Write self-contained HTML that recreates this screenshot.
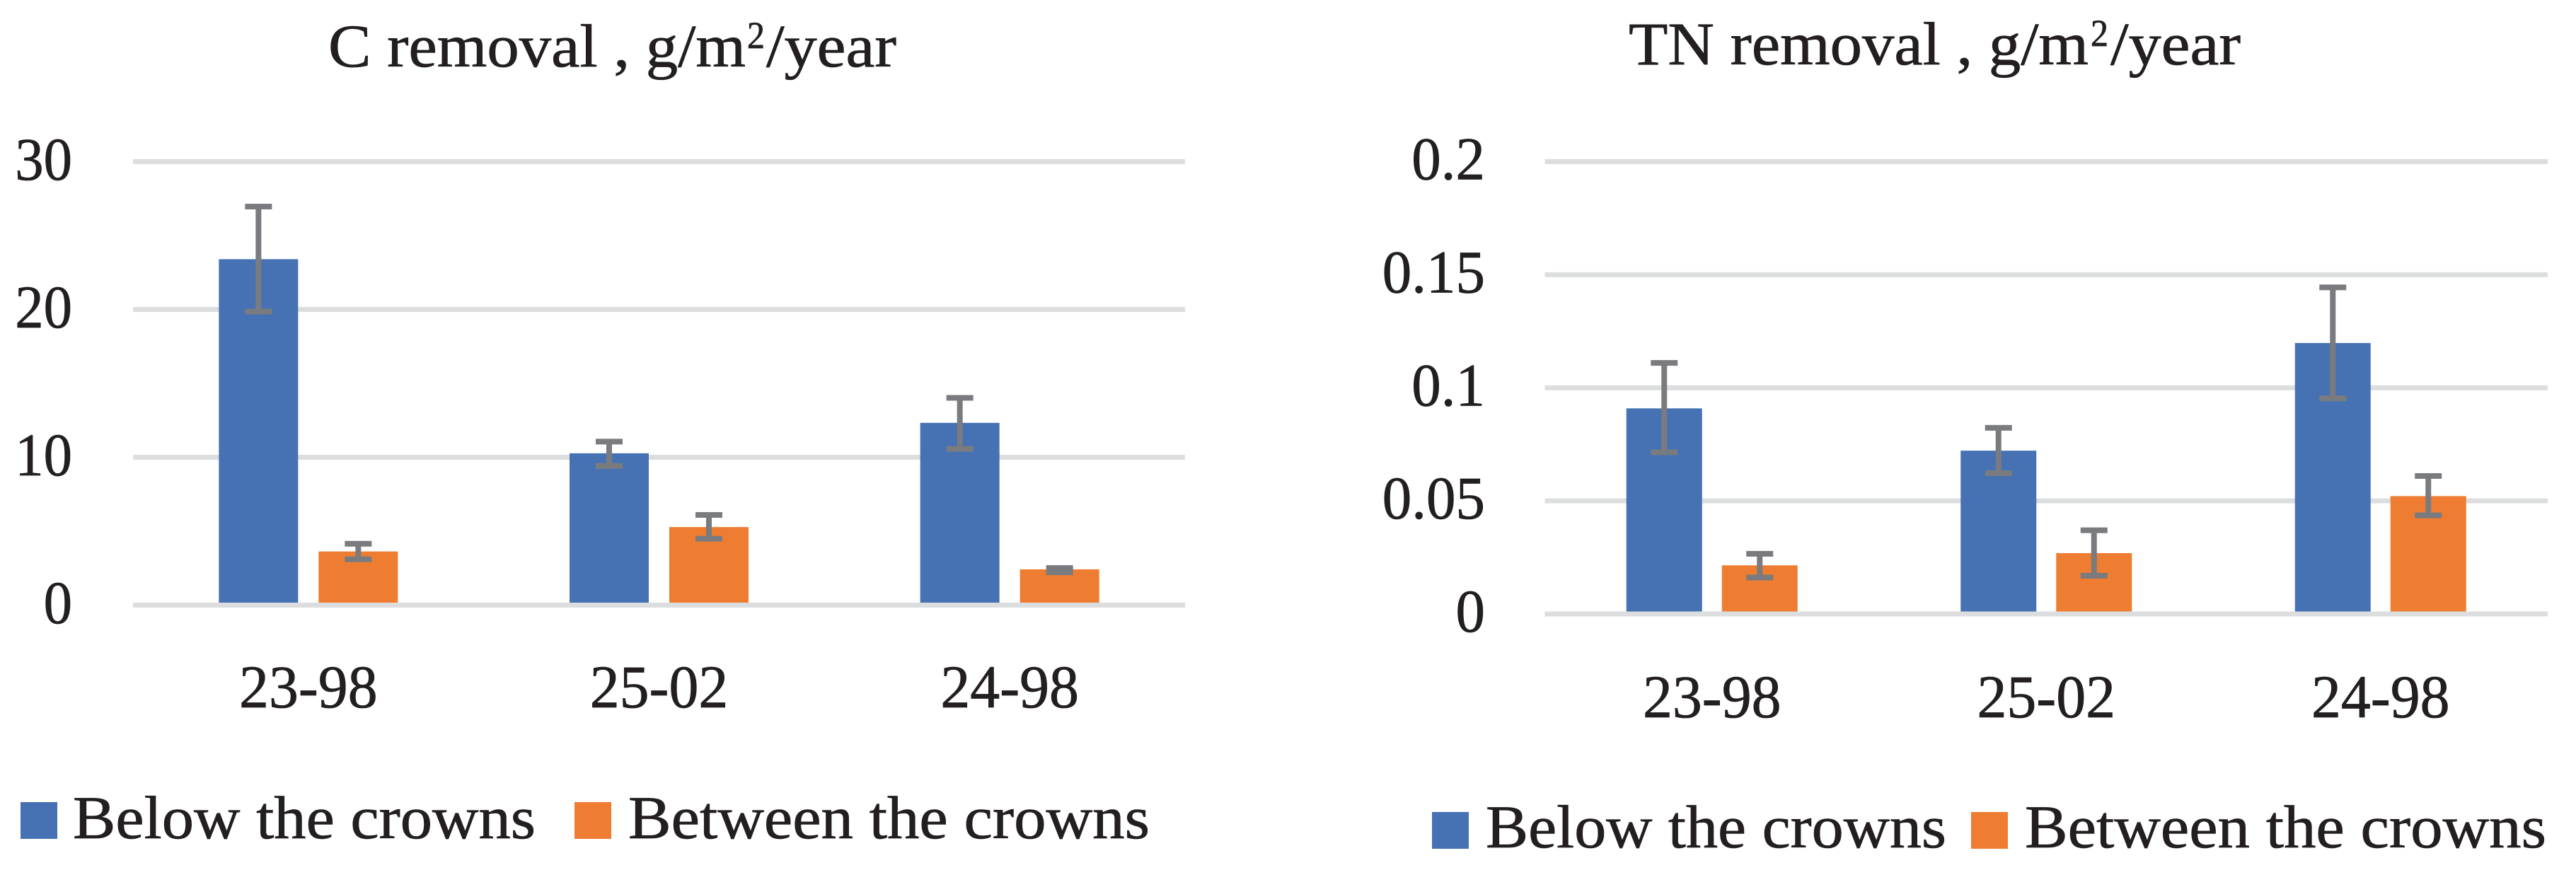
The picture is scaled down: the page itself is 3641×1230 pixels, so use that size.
<!DOCTYPE html>
<html lang="en">
<head>
<meta charset="utf-8">
<title>C and TN removal</title>
<style>
html,body{margin:0;padding:0;background:#fff;width:3641px;height:1230px;overflow:hidden}
svg{display:block}
text{font-family:"Liberation Serif",serif;fill:#231F20;stroke:#231F20;stroke-width:0.8px}
</style>
</head>
<body>
<svg id="figure" xmlns="http://www.w3.org/2000/svg" width="3641" height="1230" viewBox="0 0 3641 1230">
  <rect x="0" y="0" width="3641" height="1230" fill="#ffffff"/>
  <g id="chart-c">
    <text font-size="86" y="94"><tspan x="464" textLength="590" lengthAdjust="spacingAndGlyphs">C removal , g/m</tspan><tspan x="1056" y="68" font-size="54" textLength="25" lengthAdjust="spacingAndGlyphs">2</tspan><tspan x="1083" y="94" textLength="184" lengthAdjust="spacingAndGlyphs">/year</tspan></text>
    <g>
      <rect x="29" y="1134" width="52" height="52" fill="#4672B4"/>
      <text x="103" y="1185" font-size="86" textLength="654" lengthAdjust="spacingAndGlyphs">Below the crowns</text>
      <rect x="812" y="1134" width="52" height="52" fill="#EE7D31"/>
      <text x="888" y="1185" font-size="86" textLength="737" lengthAdjust="spacingAndGlyphs">Between the crowns</text>
    </g>
  </g>
  <g id="chart-tn">
    <text font-size="86" y="91"><tspan x="2302" textLength="650" lengthAdjust="spacingAndGlyphs">TN removal , g/m</tspan><tspan x="2955" y="65" font-size="54" textLength="25" lengthAdjust="spacingAndGlyphs">2</tspan><tspan x="2983" y="91" textLength="184" lengthAdjust="spacingAndGlyphs">/year</tspan></text>
    <g>
      <rect x="2024" y="1148" width="52" height="52" fill="#4672B4"/>
      <text x="2100" y="1198" font-size="86" textLength="651" lengthAdjust="spacingAndGlyphs">Below the crowns</text>
      <rect x="2786" y="1148" width="52" height="52" fill="#EE7D31"/>
      <text x="2862" y="1198" font-size="86" textLength="737" lengthAdjust="spacingAndGlyphs">Between the crowns</text>
    </g>
  </g>
</svg>
<script>
// Data
const categories = ["23-98", "25-02", "24-98"];

const cTicks = [0, 10, 20, 30];
const cBelow = [23.4, 10.27, 12.33];
const cBelowErrLow = [19.86, 9.41, 10.57];
const cBelowErrHigh = [26.96, 11.06, 14.02];
const cBetween = [3.63, 5.28, 2.42];
const cBetweenErrLow = [3.1, 4.49, 2.22];
const cBetweenErrHigh = [4.15, 6.1, 2.51];

const tnTicks = [0, 0.05, 0.1, 0.15, 0.2];
const tnBelow = [0.0909, 0.0722, 0.1198];
const tnBelowErrLow = [0.0715, 0.0622, 0.0953];
const tnBelowErrHigh = [0.111, 0.0823, 0.1444];
const tnBetween = [0.0215, 0.0269, 0.0521];
const tnBetweenErrLow = [0.0161, 0.0169, 0.0436];
const tnBetweenErrHigh = [0.0266, 0.037, 0.061];

const SVG_NS = "http://www.w3.org/2000/svg";
const BLUE = "#4672B4", ORANGE = "#EE7D31", GREY = "#7A7B7F", GRID = "#DCDDDE";

function makeRect(parent, x, y, w, h, fill) {
  const r = document.createElementNS(SVG_NS, "rect");
  r.setAttribute("x", x);
  r.setAttribute("y", y);
  r.setAttribute("width", w);
  r.setAttribute("height", h);
  r.setAttribute("fill", fill);
  parent.appendChild(r);
  return r;
}

function makeText(parent, str, x, y, anchor, squeeze) {
  const t = document.createElementNS(SVG_NS, "text");
  t.textContent = str;
  t.setAttribute("x", x);
  t.setAttribute("y", y);
  t.setAttribute("font-size", "86");
  t.setAttribute("text-anchor", anchor);
  parent.appendChild(t);
  const w = t.getComputedTextLength();
  t.setAttribute("textLength", (w * squeeze).toFixed(1));
  t.setAttribute("lengthAdjust", "spacingAndGlyphs");
  return t;
}

function drawSeries(group, prefix, xCenter, barW, yScale, bottom, vals, lows, highs, fill) {
  vals.forEach(function (v, i) {
    const top = yScale(v);
    const bar = makeRect(group, xCenter(i) - barW / 2, top, barW, bottom - top, fill);
    
    
  });
  vals.forEach(function (v, i) {
    const cx = xCenter(i);
    const yHi = yScale(highs[i]);
    const yLo = yScale(lows[i]);
    const stem = makeRect(group, cx - 4, yHi, 8, yLo - yHi, GREY);
    
    
    const capTop = makeRect(group, cx - 19, yHi - 4, 38, 8, GREY);
    
    
    const capBottom = makeRect(group, cx - 19, yLo - 4, 38, 8, GREY);
    
    
  });
}

function drawChart(o) {
  const root = document.getElementById(o.rootId);
  const first = root.firstChild;
  const g = document.createElementNS(SVG_NS, "g");
  
  
  root.insertBefore(g, first);

  const maxTick = o.ticks[o.ticks.length - 1];
  const yScale = function (v) { return o.yZero - (v / maxTick) * (o.yZero - o.yTop); };
  const step = (o.xRight - o.xLeft) / categories.length;
  const catCenter = function (i) { return o.xLeft + step * (i + 0.5); };

  o.ticks.forEach(function (t) {
    const y = yScale(t);
    const line = makeRect(g, o.xLeft, y - 3.5, o.xRight - o.xLeft, 7, GRID);
    
    
    const label = makeText(g, String(t), o.yLabelX, y + o.yLabelDy, "end", o.tickSqueeze);
    
    
  });

  const bottom = o.yZero - 3.5;
  drawSeries(g, o.prefix + '-below', function (i) { return catCenter(i) - o.offset; }, o.barW, yScale, bottom, o.below, o.belowLow, o.belowHigh, BLUE);
  drawSeries(g, o.prefix + '-between', function (i) { return catCenter(i) + o.offset; }, o.barW, yScale, bottom, o.between, o.betweenLow, o.betweenHigh, ORANGE);

  categories.forEach(function (c, i) {
    const label = makeText(g, c, catCenter(i), o.xLabelY, "middle", 0.975);
    
    
  });
}

drawChart({
  rootId: "chart-c", prefix: "c", ticks: cTicks,
  below: cBelow, belowLow: cBelowErrLow, belowHigh: cBelowErrHigh,
  between: cBetween, betweenLow: cBetweenErrLow, betweenHigh: cBetweenErrHigh,
  xLeft: 188, xRight: 1675, yZero: 855.5, yTop: 228.5,
  barW: 112, offset: 70.5, yLabelX: 102, yLabelDy: 25.5, xLabelY: 1000, tickSqueeze: 0.94
});

drawChart({
  rootId: "chart-tn", prefix: "tn", ticks: tnTicks,
  below: tnBelow, belowLow: tnBelowErrLow, belowHigh: tnBelowErrHigh,
  between: tnBetween, betweenLow: tnBetweenErrLow, betweenHigh: tnBetweenErrHigh,
  xLeft: 2183.5, xRight: 3601, yZero: 868, yTop: 228.5,
  barW: 107, offset: 67.5, yLabelX: 2099, yLabelDy: 25, xLabelY: 1014, tickSqueeze: 0.965
});
</script>
</body>
</html>
